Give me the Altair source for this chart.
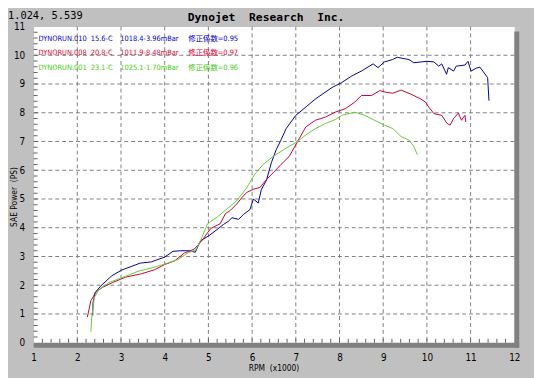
import altair as alt
import pandas as pd

# ---------------- data ----------------
runs = ["DYNORUN.010", "DYNORUN.008", "DYNORUN.001"]

blue_rpm = [2.35, 2.36, 2.41, 2.54, 2.79, 3.02, 3.44, 3.69, 4.00, 4.19,
            4.37, 4.55, 4.70, 4.82, 5.01, 5.20, 5.35, 5.46, 5.54, 5.69,
            5.80, 5.95, 6.03, 6.14, 6.21, 6.33, 6.44, 6.55, 6.66, 6.78,
            7.00, 7.23, 7.45, 7.83, 8.05, 8.28, 8.50, 8.77, 8.88, 9.03,
            9.21, 9.32, 9.59, 9.70, 10.00, 10.16, 10.27, 10.34, 10.45, 10.49,
            10.61, 10.67, 10.87, 10.94, 11.01, 11.13, 11.21, 11.28, 11.39, 11.42]
blue_ps = [0.95, 1.40, 1.75, 1.98, 2.33, 2.53, 2.77, 2.81, 2.98, 3.18,
           3.20, 3.20, 3.15, 3.55, 3.72, 3.94, 4.12, 4.23, 4.35, 4.29,
           4.46, 4.63, 5.00, 4.86, 5.32, 5.66, 6.26, 6.71, 7.05, 7.45,
           7.91, 8.20, 8.48, 8.88, 9.05, 9.28, 9.45, 9.70, 9.57, 9.77,
           9.85, 9.93, 9.85, 9.74, 9.79, 9.77, 9.62, 9.70, 9.34, 9.57,
           9.45, 9.62, 9.66, 9.79, 9.45, 9.55, 9.59, 9.45, 9.22, 8.42]

red_rpm = [2.23, 2.31, 2.42, 2.57, 2.80, 3.10, 3.47, 3.77, 4.00, 4.23,
           4.45, 4.68, 4.86, 5.05, 5.27, 5.39, 5.50, 5.65, 5.80, 5.88,
           6.03, 6.18, 6.33, 6.48, 6.66, 6.85, 7.04, 7.23, 7.45, 7.68,
           7.90, 8.13, 8.35, 8.50, 8.73, 8.92, 9.07, 9.22, 9.41, 9.63,
           9.86, 9.97, 10.04, 10.16, 10.34, 10.46, 10.53, 10.61, 10.72, 10.79,
           10.87, 10.89]
red_ps = [0.89, 1.46, 1.75, 1.92, 2.09, 2.28, 2.40, 2.54, 2.72, 2.85,
          3.12, 3.26, 3.57, 3.97, 4.14, 4.49, 4.60, 4.83, 5.11, 5.23,
          5.34, 5.40, 5.68, 5.91, 6.20, 6.48, 7.00, 7.51, 7.74, 7.85,
          8.02, 8.14, 8.37, 8.60, 8.60, 8.77, 8.71, 8.68, 8.79, 8.65,
          8.48, 8.37, 8.20, 7.97, 7.91, 7.63, 7.57, 7.80, 7.99, 7.74,
          7.91, 7.68]

green_rpm = [2.31, 2.33, 2.39, 2.50, 2.72, 3.02, 3.40, 3.77, 4.07, 4.30,
             4.52, 4.71, 4.82, 4.98, 5.20, 5.43, 5.65, 5.88, 6.06, 6.25,
             6.48, 6.78, 7.04, 7.23, 7.45, 7.68, 7.90, 8.05, 8.35, 8.58,
             8.80, 9.03, 9.22, 9.41, 9.59, 9.70, 9.78]
green_ps = [0.38, 0.89, 1.58, 1.86, 2.09, 2.26, 2.49, 2.63, 2.77, 2.89,
            3.12, 3.23, 3.55, 4.14, 4.37, 4.66, 4.94, 5.40, 5.86, 6.20,
            6.48, 6.77, 7.00, 7.23, 7.45, 7.63, 7.76, 7.91, 8.02, 7.91,
            7.74, 7.57, 7.45, 7.17, 7.05, 6.83, 6.54]

legend_temp = ["15.6-C", "20.8-C", "23.1-C"]
legend_press = ["1018.4-3.96mBar", "1011.9-8.48mBar", "1025.1-1.70mBar"]
legend_factor = ["修正係数=0.95", "修正係数=0.97", "修正係数=0.96"]

x_ticks = list(range(1, 13))
y_ticks = list(range(0, 12))
grid_x = x_ticks[1:-1]
grid_y = y_ticks[1:-1]
minor_x = [round(1 + 0.2 * k, 1) for k in range(1, 55)]
minor_y = [round(0.2 * k, 1) for k in range(1, 55)]

title_text = "Dynojet\u00a0\u00a0Research\u00a0\u00a0Inc."
coord_text = "1.024,\u00a05.539"
x_title = "RPM\u00a0\u00a0(x1000)"
y_title = "SAE\u00a0Power\u00a0\u00a0(PS)"

# ---------------- styling ----------------
line_colors = ["#000099", "#cc0033", "#66cc33"]
text_colors = ["#0000cc", "#dd0033", "#44cc11"]
W, H = 488, 321
narrow = "DejaVu Sans Condensed, Liberation Sans Narrow, Liberation Sans, sans-serif"
mono = "DejaVu Sans Mono, Liberation Mono, monospace"

rows = []
for name, xv, yv in zip(runs, [blue_rpm, red_rpm, green_rpm], [blue_ps, red_ps, green_ps]):
    for i, (a, b) in enumerate(zip(xv, yv)):
        rows.append({"run": name, "rpm": a, "ps": b, "i": i})
df = pd.DataFrame(rows)

xs = alt.Scale(domain=[1, 12], nice=False, zero=False)
ys = alt.Scale(domain=[0, 11], nice=False, zero=False)
axis_x = alt.Axis(values=x_ticks, title=None, grid=False, ticks=False, domain=False,
                  labelPadding=10, labelFont=narrow, labelFontSize=10,
                  labelColor="#000000", labelFlush=False)
axis_y = alt.Axis(values=y_ticks, title=None, grid=False, ticks=False, domain=False,
                  labelPadding=9, labelFont=narrow, labelFontSize=10,
                  labelColor="#000000", labelFlush=False)

one = pd.DataFrame({"a": [0]})

shadow_r = alt.Chart(one).mark_rect(color="#808080").encode(
    x=alt.value(W), x2=alt.value(W + 5), y=alt.value(5), y2=alt.value(H + 5))
shadow_b = alt.Chart(one).mark_rect(color="#808080").encode(
    x=alt.value(0), x2=alt.value(W + 5), y=alt.value(H), y2=alt.value(H + 5))

gx = alt.Chart(pd.DataFrame({"rpm": grid_x})).mark_rule(
    color="#808080", strokeDash=[4, 3], strokeWidth=1).encode(
    x=alt.X("rpm:Q", scale=xs, axis=axis_x))
gy = alt.Chart(pd.DataFrame({"ps": grid_y})).mark_rule(
    color="#808080", strokeDash=[4, 3], strokeWidth=1).encode(
    y=alt.Y("ps:Q", scale=ys, axis=axis_y))

mx = alt.Chart(pd.DataFrame({"rpm": minor_x})).mark_rule(color="#606060").encode(
    x=alt.X("rpm:Q", scale=xs, axis=axis_x), y=alt.value(H - 4), y2=alt.value(H))
my = alt.Chart(pd.DataFrame({"ps": minor_y})).mark_rule(color="#606060").encode(
    y=alt.Y("ps:Q", scale=ys, axis=axis_y), x=alt.value(0), x2=alt.value(4))

lines = alt.Chart(df).mark_line(strokeWidth=1, clip=True).encode(
    x=alt.X("rpm:Q", scale=xs, axis=axis_x),
    y=alt.Y("ps:Q", scale=ys, axis=axis_y),
    color=alt.Color("run:N", scale=alt.Scale(domain=runs, range=line_colors), legend=None),
    order="i:Q",
)

texts = []
texts.append(alt.Chart(one).mark_text(font=mono, fontWeight="bold", fontSize=11.5,
                                      align="center", baseline="alphabetic", color="#000000").encode(
    x=alt.value(236), y=alt.value(-6), text=alt.value(title_text)))
texts.append(alt.Chart(one).mark_text(font=mono, fontSize=10.5, align="left",
                                      baseline="alphabetic", color="#000000").encode(
    x=alt.value(-26), y=alt.value(-8), text=alt.value(coord_text)))
texts.append(alt.Chart(one).mark_text(font=narrow, fontSize=8.5, align="center",
                                      baseline="middle", color="#000000").encode(
    x=alt.value(W / 2), y=alt.value(H + 26), text=alt.value(x_title)))
texts.append(alt.Chart(one).mark_text(font=narrow, fontSize=8.5, align="center", angle=270,
                                      baseline="middle", color="#000000").encode(
    x=alt.value(-20), y=alt.value(173), text=alt.value(y_title)))

col_x = [5, 58, 88, 157]
row_y = [12.5, 27, 42]
for r in range(3):
    parts = [runs[r], legend_temp[r], legend_press[r], legend_factor[r]]
    for c in range(4):
        texts.append(alt.Chart(one).mark_text(
            font=narrow + ", Noto Sans CJK JP", fontSize=7.5, align="left",
            baseline="middle", color=text_colors[r]).encode(
            x=alt.value(col_x[c]), y=alt.value(row_y[r]), text=alt.value(parts[c])))

chart = alt.layer(shadow_r, shadow_b, gx, gy, mx, my, lines, *texts).properties(
    width=W, height=H, background="#c0c0c0",
    padding={"left": 26, "top": 16, "right": 20, "bottom": 33},
    autosize=alt.AutoSizeParams(type="none"),
).configure_view(fill="white", stroke="transparent")

chart.save("out.html", embed_options={"renderer": "svg", "actions": False})
